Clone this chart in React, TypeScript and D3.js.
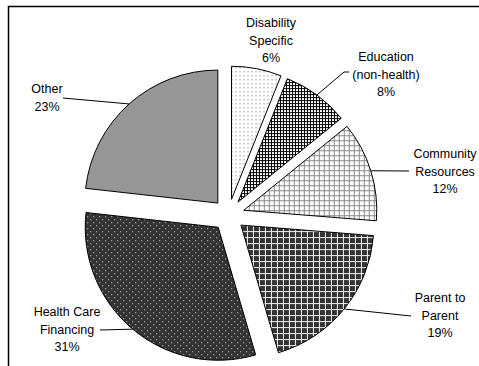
import React from "react";
import * as d3 from "d3";

const categories = ["Disability Specific", "Education (non-health)", "Community Resources", "Parent to Parent", "Health Care Financing", "Other"];
const labelLines = [["Disability", "Specific"], ["Education", "(non-health)"], ["Community", "Resources"], ["Parent to", "Parent"], ["Health Care", "Financing"], ["Other"]];
const values = [6, 8, 12, 19, 31, 23];

// layout (not data): label text centre x, first baseline y, leader start (or null)
const labelLayout: { x: number; y: number; leader: [number, number][] | null }[] = [
  { x: 271, y: 27, leader: null },
  { x: 386, y: 61, leader: [[349, 72], [344, 72]] },
  { x: 445, y: 158, leader: [[409, 171]] },
  { x: 440, y: 302, leader: [[411, 316]] },
  { x: 67, y: 316, leader: [[100, 330]] },
  { x: 47, y: 93, leader: [[63, 98]] },
];

const W = 479, H = 366;
const CX = 228.5, CY = 215, R = 133, EXPLODE = 16;
const LINE_H = 17.5;
const fills = ["url(#pDis)", "url(#pEdu)", "url(#pCom)", "url(#pPar)", "url(#pHcf)", "#969696"];

export default function App() {
  const pie = d3.pie<number>().sort(null).value((d) => d);
  const arcs = pie(values);
  const arc = d3.arc<d3.PieArcDatum<number>>().innerRadius(0).outerRadius(R);
  const edge = d3.arc<d3.PieArcDatum<number>>().innerRadius(R).outerRadius(R);

  return (
    <svg width={W} height={H} style={{ position: "absolute", left: 0, top: 0, background: "#fff" }}
      fontFamily="'Liberation Sans', Arial, sans-serif" fontSize={12.5}>
      <defs>
        <pattern id="pDis" width={4} height={4} patternUnits="userSpaceOnUse">
          <rect width={4} height={4} fill="#fff" />
          <rect x={0} y={0} width={1} height={1} fill="#666" />
        </pattern>
        <pattern id="pEdu" width={3} height={3} patternUnits="userSpaceOnUse">
          <rect width={3} height={3} fill="#000" />
          <rect x={1} y={1} width={2} height={2} fill="#fff" />
        </pattern>
        <pattern id="pCom" width={5} height={5} patternUnits="userSpaceOnUse">
          <rect width={5} height={5} fill="#fff" />
          <rect x={0} y={0} width={1} height={5} fill="#888" />
          <rect x={0} y={0} width={5} height={1} fill="#888" />
        </pattern>
        <pattern id="pPar" width={6} height={6} patternUnits="userSpaceOnUse">
          <rect width={6} height={6} fill="#333" />
          <rect x={0} y={0} width={1} height={6} fill="#f2f2f2" />
          <rect x={0} y={0} width={6} height={1} fill="#f2f2f2" />
        </pattern>
        <pattern id="pHcf" width={6} height={6} patternUnits="userSpaceOnUse">
          <rect width={6} height={6} fill="#333" />
          <rect x={1} y={1} width={1} height={1} fill="#e0e0e0" />
          <rect x={4} y={4} width={1} height={1} fill="#e0e0e0" />
        </pattern>
      </defs>
      <rect x={8.5} y={6.5} width={W + 10} height={H + 10} fill="none" stroke="#000" strokeWidth={1.5} />
      {arcs.map((a, i) => {
        const mid = (a.startAngle + a.endAngle) / 2;
        const dx = Math.sin(mid) * EXPLODE;
        const dy = -Math.cos(mid) * EXPLODE;
        const ox = CX + dx, oy = CY + dy;
        const [ex, ey] = edge.centroid(a);
        const L = labelLayout[i];
        const lines = [...labelLines[i], `${values[i]}%`];
        return (
          <g key={categories[i]}>
            <path d={arc(a) || ""} transform={`translate(${ox},${oy})`} fill={fills[i]} stroke="#000" strokeWidth={1} />
            {L.leader && (
              <polyline
                points={[...L.leader, [ox + ex, oy + ey]].map((p) => p.join(",")).join(" ")}
                fill="none" stroke="#000" strokeWidth={1} />
            )}
            <text textAnchor="middle" fill="#000">
              {lines.map((t, j) => (
                <tspan key={j} x={L.x} y={L.y + j * LINE_H}>{t}</tspan>
              ))}
            </text>
          </g>
        );
      })}
    </svg>
  );
}
